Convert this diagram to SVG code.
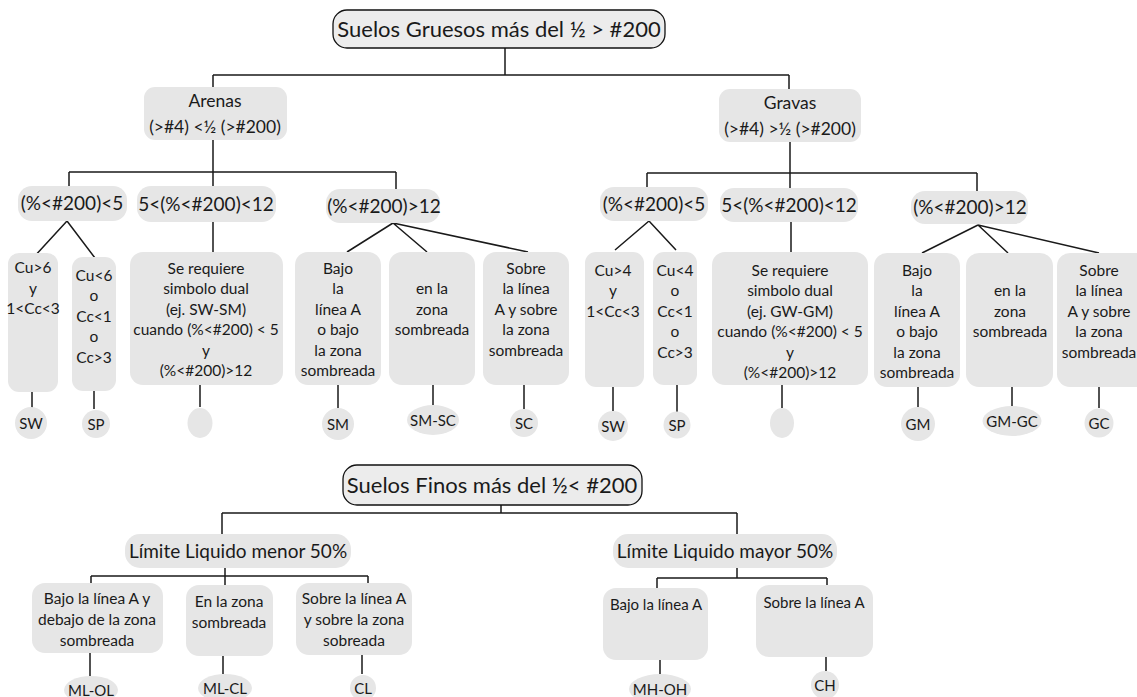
<svg xmlns="http://www.w3.org/2000/svg" width="1137" height="697" viewBox="0 0 1137 697">
<style>
.bx{fill:#e6e6e6}
.tt{fill:#ececec;stroke:#111;stroke-width:1.3}
.ln{stroke:#1a1a1a;stroke-width:1.5;fill:none}
text{font-family:Lato,"Liberation Sans",sans-serif;fill:#1a1a1a;text-anchor:middle}
.t22{font-size:22px}
.t19{font-size:19px}
.t17{font-size:17.5px}
.t15{font-size:15.5px}
.t14{font-size:15px}
</style>
<rect width="1137" height="697" fill="#fff"/>
<g id="connectors" class="ln">
<path d="M505,48V75M213,75H789M213,75V87M789,75V89"/>
<path d="M213,140V186M69,172H396M69,172V186M396,172V189"/>
<path d="M67,221L33,258M67,221L95,258M32,392V408M94,391V409"/>
<path d="M213,222V252M200,385V407"/>
<path d="M393,223L347,252M393,223L427,252M393,223L528,252M338,385V408M433,385V406M524,385V409"/>
<path d="M790,142V188M647,173H977M647,173V187M977,173V191"/>
<path d="M649,221L615,250M649,221L676,250M613,387V411M677,385V412"/>
<path d="M791,222V252M782,385V408"/>
<path d="M978,225L922,253M978,225L1008,253M978,225L1099,253M918,387V407M1012,387V406M1099,387V408"/>
<path d="M501,505V513M222,513H737M222,513V534M737,513V534"/>
<path d="M225,568V585M91,576H368M91,576V583M368,576V583M90,653V676M223,656V674M362,655V674"/>
<path d="M737,568V578M657,578H827M657,578V588M827,578V585M660,660V674M826,657V671"/>
</g>
<g id="n-gruesos"><rect class="tt" x="333" y="10" width="332" height="38" rx="14"/><text class="t22" x="499" y="37">Suelos Gruesos más del ½ &gt; #200</text></g>
<g id="n-arenas"><rect class="bx" x="144" y="87" width="143" height="53" rx="11"/><text class="t17" x="215"><tspan x="215" y="107">Arenas</tspan><tspan x="215" y="133">(&gt;#4) &lt;½ (&gt;#200)</tspan></text></g>
<g id="n-gravas"><rect class="bx" x="719" y="89" width="142" height="53" rx="11"/><text class="t17" x="790"><tspan x="790" y="109">Gravas</tspan><tspan x="790" y="135">(&gt;#4) &gt;½ (&gt;#200)</tspan></text></g>

<g id="n-a-lt5"><rect class="bx" x="18" y="186" width="109" height="35" rx="14"/><text class="t19" x="72" y="210">(%&lt;#200)&lt;5</text></g>
<g id="n-a-5-12"><rect class="bx" x="137" y="186" width="139" height="36" rx="14"/><text class="t19" x="206" y="210.5">5&lt;(%&lt;#200)&lt;12</text></g>
<g id="n-a-gt12"><rect class="bx" x="326" y="189" width="114" height="34" rx="14"/><text class="t19" x="384" y="212.5">(%&lt;#200)&gt;12</text></g>

<g id="n-a-cu6"><rect class="bx" x="8" y="253" width="50" height="139" rx="11"/><text class="t15"><tspan x="33" y="273">Cu&gt;6</tspan><tspan x="33" y="293.5">y</tspan><tspan x="33" y="314">1&lt;Cc&lt;3</tspan></text></g>
<g id="n-a-cu6b"><rect class="bx" x="72" y="257" width="44" height="134" rx="11"/><text class="t15"><tspan x="94" y="280.5">Cu&lt;6</tspan><tspan x="94" y="301">o</tspan><tspan x="94" y="321.5">Cc&lt;1</tspan><tspan x="94" y="342">o</tspan><tspan x="94" y="362.5">Cc&gt;3</tspan></text></g>
<g id="n-a-sw"><circle class="bx" cx="31" cy="423" r="16"/><text class="t14" x="31" y="428.5">SW</text></g>
<g id="n-a-sp"><circle class="bx" cx="96" cy="424" r="14"/><text class="t14" x="96" y="429.5">SP</text></g>

<g id="n-a-dual"><rect class="bx" x="130" y="252" width="153" height="133" rx="13"/><text class="t15"><tspan x="206" y="273.5">Se requiere</tspan><tspan x="206" y="294">simbolo dual</tspan><tspan x="206" y="314.5">(ej. SW-SM)</tspan><tspan x="206" y="335">cuando (%&lt;#200) &lt; 5</tspan><tspan x="206" y="355.5">y</tspan><tspan x="206" y="376">(%&lt;#200)&gt;12</tspan></text></g>
<g id="n-a-empty"><ellipse class="bx" cx="200" cy="423" rx="12.5" ry="15"/></g>

<g id="n-a-bajo"><rect class="bx" x="295" y="252" width="86" height="133" rx="13"/><text class="t15"><tspan x="338" y="273.5">Bajo</tspan><tspan x="338" y="294">la</tspan><tspan x="338" y="314.5">línea A</tspan><tspan x="338" y="335">o bajo</tspan><tspan x="338" y="355.5">la zona</tspan><tspan x="338" y="376">sombreada</tspan></text></g>
<g id="n-a-enla"><rect class="bx" x="389" y="252" width="86" height="133" rx="13"/><text class="t15"><tspan x="432" y="294">en la</tspan><tspan x="432" y="314.5">zona</tspan><tspan x="432" y="335">sombreada</tspan></text></g>
<g id="n-a-sobre"><rect class="bx" x="483" y="252" width="86" height="133" rx="13"/><text class="t15"><tspan x="526" y="273.5">Sobre</tspan><tspan x="526" y="294">la línea</tspan><tspan x="526" y="314.5">A y sobre</tspan><tspan x="526" y="335">la zona</tspan><tspan x="526" y="355.5">sombreada</tspan></text></g>
<g id="n-sm"><circle class="bx" cx="338" cy="424" r="16"/><text class="t14" x="338" y="429.5">SM</text></g>
<g id="n-smsc"><ellipse class="bx" cx="433" cy="420" rx="26" ry="15"/><text class="t14" x="433" y="425.5">SM-SC</text></g>
<g id="n-sc"><circle class="bx" cx="524" cy="423" r="14"/><text class="t14" x="524" y="428.5">SC</text></g>

<g id="n-g-lt5"><rect class="bx" x="600" y="187" width="108" height="34" rx="14"/><text class="t19" x="654" y="210.5">(%&lt;#200)&lt;5</text></g>
<g id="n-g-5-12"><rect class="bx" x="720" y="188" width="138" height="34" rx="14"/><text class="t19" x="789" y="211.5">5&lt;(%&lt;#200)&lt;12</text></g>
<g id="n-g-gt12"><rect class="bx" x="911" y="191" width="117" height="33" rx="14"/><text class="t19" x="970" y="214">(%&lt;#200)&gt;12</text></g>

<g id="n-g-cu4"><rect class="bx" x="585" y="252" width="59" height="135" rx="11"/><text class="t15"><tspan x="613" y="275.5">Cu&gt;4</tspan><tspan x="613" y="296">y</tspan><tspan x="613" y="316.5">1&lt;Cc&lt;3</tspan></text></g>
<g id="n-g-cu4b"><rect class="bx" x="653" y="252" width="44" height="133" rx="11"/><text class="t15"><tspan x="675" y="275.5">Cu&lt;4</tspan><tspan x="675" y="296">o</tspan><tspan x="675" y="316.5">Cc&lt;1</tspan><tspan x="675" y="337">o</tspan><tspan x="675" y="357.5">Cc&gt;3</tspan></text></g>
<g id="n-g-sw"><circle class="bx" cx="613" cy="426" r="15"/><text class="t14" x="613" y="431.5">SW</text></g>
<g id="n-g-sp"><circle class="bx" cx="677" cy="425" r="13.5"/><text class="t14" x="677" y="430.5">SP</text></g>

<g id="n-g-dual"><rect class="bx" x="712" y="252" width="156" height="133" rx="13"/><text class="t15"><tspan x="790" y="275.5">Se requiere</tspan><tspan x="790" y="296">simbolo dual</tspan><tspan x="790" y="316.5">(ej. GW-GM)</tspan><tspan x="790" y="337">cuando (%&lt;#200) &lt; 5</tspan><tspan x="790" y="357.5">y</tspan><tspan x="790" y="378">(%&lt;#200)&gt;12</tspan></text></g>
<g id="n-g-empty"><ellipse class="bx" cx="782" cy="423" rx="12" ry="15"/></g>

<g id="n-g-bajo"><rect class="bx" x="874" y="253" width="86" height="134" rx="13"/><text class="t15"><tspan x="917" y="275.5">Bajo</tspan><tspan x="917" y="296">la</tspan><tspan x="917" y="316.5">línea A</tspan><tspan x="917" y="337">o bajo</tspan><tspan x="917" y="357.5">la zona</tspan><tspan x="917" y="378">sombreada</tspan></text></g>
<g id="n-g-enla"><rect class="bx" x="966" y="253" width="87" height="134" rx="13"/><text class="t15"><tspan x="1010" y="296">en la</tspan><tspan x="1010" y="316.5">zona</tspan><tspan x="1010" y="337">sombreada</tspan></text></g>
<g id="n-g-sobre"><rect class="bx" x="1057" y="253" width="95" height="134" rx="13"/><text class="t15"><tspan x="1099" y="275.5">Sobre</tspan><tspan x="1099" y="296">la línea</tspan><tspan x="1099" y="316.5">A y sobre</tspan><tspan x="1099" y="337">la zona</tspan><tspan x="1099" y="357.5">sombreada</tspan></text></g>
<g id="n-gm"><circle class="bx" cx="918" cy="424" r="17"/><text class="t14" x="918" y="429.5">GM</text></g>
<g id="n-gmgc"><ellipse class="bx" cx="1012" cy="421" rx="29.5" ry="15"/><text class="t14" x="1012" y="426.5">GM-GC</text></g>
<g id="n-gc"><circle class="bx" cx="1099" cy="423" r="14.5"/><text class="t14" x="1099" y="428.5">GC</text></g>

<g id="n-finos"><rect class="tt" x="343" y="465" width="299" height="40" rx="14"/><text class="t22" x="492" y="493">Suelos Finos más del ½&lt; #200</text></g>
<g id="n-menor"><rect class="bx" x="125" y="534" width="226" height="34" rx="15"/><text class="t19" x="238" y="557.5">Límite Liquido menor 50%</text></g>
<g id="n-mayor"><rect class="bx" x="613" y="534" width="224" height="34" rx="15"/><text class="t19" x="725" y="557.5">Límite Liquido mayor 50%</text></g>

<g id="n-f-bajo"><rect class="bx" x="32" y="583" width="131" height="70" rx="13"/><text class="t15"><tspan x="97" y="603.5">Bajo la línea A y</tspan><tspan x="97" y="624.5">debajo de la zona</tspan><tspan x="97" y="645.5">sombreada</tspan></text></g>
<g id="n-f-enla"><rect class="bx" x="186" y="585" width="87" height="71" rx="13"/><text class="t15"><tspan x="229" y="606.5">En la zona</tspan><tspan x="229" y="627.5">sombreada</tspan></text></g>
<g id="n-f-sobre"><rect class="bx" x="296" y="583" width="116" height="72" rx="13"/><text class="t15"><tspan x="354" y="603.5">Sobre la línea A</tspan><tspan x="354" y="624.5">y sobre la zona</tspan><tspan x="354" y="645.5">sobreada</tspan></text></g>
<g id="n-mlol"><ellipse class="bx" cx="91" cy="690" rx="27" ry="14"/><text class="t14" x="91" y="695.5">ML-OL</text></g>
<g id="n-mlcl"><ellipse class="bx" cx="225" cy="688" rx="27" ry="14"/><text class="t14" x="225" y="693.5">ML-CL</text></g>
<g id="n-cl"><circle class="bx" cx="363" cy="688" r="13"/><text class="t14" x="363" y="693.5">CL</text></g>

<g id="n-h-bajo"><rect class="bx" x="603" y="588" width="105" height="72" rx="13"/><text class="t14" x="656" y="609.5">Bajo la línea A</text></g>
<g id="n-h-sobre"><rect class="bx" x="756" y="585" width="117" height="72" rx="13"/><text class="t14" x="814" y="607.5">Sobre la línea A</text></g>
<g id="n-mhoh"><ellipse class="bx" cx="660" cy="689" rx="31" ry="15"/><text class="t14" x="660" y="694.5">MH-OH</text></g>
<g id="n-ch"><circle class="bx" cx="825" cy="685" r="14"/><text class="t14" x="825" y="690.5">CH</text></g>
</svg>
